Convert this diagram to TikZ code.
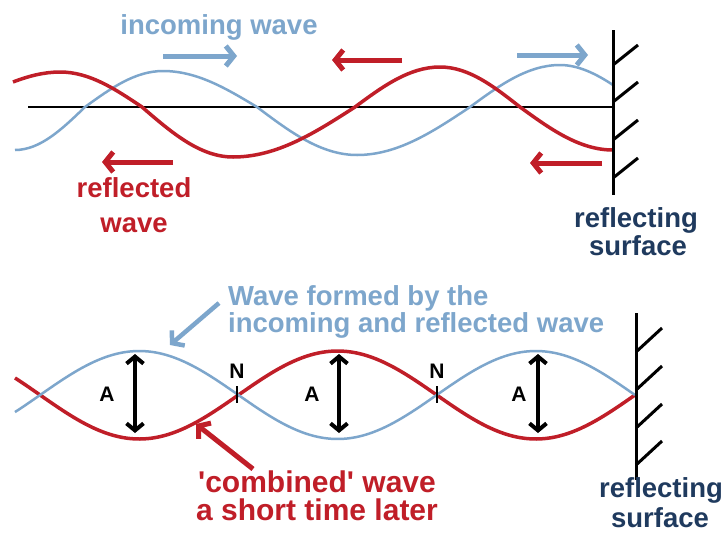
\documentclass[tikz,border=0pt]{standalone}
\usepackage{fontspec}
\setmainfont{Liberation Sans}
\usetikzlibrary{arrows.meta}
\definecolor{wblue}{RGB}{125,166,204}
\definecolor{wred}{RGB}{192,30,40}
\definecolor{navy}{RGB}{31,58,94}
\tikzset{
  lbl/.style={font=\fontsize{27.5}{30}\selectfont\bfseries, inner sep=0pt, anchor=base},
  lblbig/.style={font=\fontsize{30}{32}\selectfont\bfseries, inner sep=0pt, anchor=base},
  smalllbl/.style={font=\fontsize{21}{23}\selectfont\bfseries, inner sep=0pt, anchor=base},
  bluewave/.style={wblue, line width=2.5pt},
  redwave/.style={wred, line width=3.5pt},
  arr/.style={line width=5pt, -{Straight Barb[length=8pt,width=20pt]}},
  dblarr/.style={line width=4pt, {Straight Barb[length=7pt,width=17pt]}-{Straight Barb[length=7pt,width=17pt]}},
  wall/.style={black, line width=3pt},
  hatchline/.style={black, line width=3pt},
}
\begin{document}
\begin{tikzpicture}[x=1pt, y=-1pt]
\fill[white] (0,0) rectangle (725,544);
\useasboundingbox (0,0) rectangle (725,544);

% ---------- top panel ----------
\draw[black, line width=1.5pt] (28,107) -- (613,107);
\draw[bluewave] (15,150)
  .. controls (40.3,150) and (62.2,129) .. (85,107)
  .. controls (110.4,88.6) and (134.8,71) .. (163,71)
  .. controls (197,71) and (226.4,88.6) .. (257,107)
  .. controls (289.6,131.6) and (320.9,155) .. (357,155)
  .. controls (397.8,155) and (433.2,131.6) .. (470,107)
  .. controls (499.3,85.5) and (527.5,65) .. (560,65)
  .. controls (577.7,65) and (595.3,73.3) .. (613,85);
\draw[redwave] (13,82)
  .. controls (28.7,76) and (44.3,72) .. (60,72)
  .. controls (89.6,72) and (115.3,89.1) .. (142,107)
  .. controls (171.6,132.6) and (200.1,157) .. (233,157)
  .. controls (277.1,157) and (315.3,132.6) .. (355,107)
  .. controls (382.7,86.5) and (409.3,67) .. (440,67)
  .. controls (468.9,67) and (493.9,86.5) .. (520,107)
  .. controls (550.3,129) and (579.4,150) .. (613,150);

\draw[wall] (613,30) -- (613,195);
\foreach \yy in {65,102,140,178} \draw[hatchline] (613,\yy) -- ++(25,-20);

\draw[arr, wblue] (163,56) -- (237,56);
\draw[arr, wred] (402,60) -- (332,60);
\draw[arr, wblue] (517,55) -- (588,55);
\draw[arr, wred] (602,163) -- (530,163);
\draw[arr, wred] (173,162) -- (102,162);

\node[lbl, text=wblue] (incoming) at (219,34) {incoming wave};
\node[lbl, text=wred] (refl1) at (134,197) {reflected};
\node[lbl, text=wred] (refl2) at (134,232) {wave};
\node[lbl, text=navy] (surf1) at (636,227) {reflecting};
\node[lbl, text=navy] (surf2) at (638,255) {surface};

% ---------- bottom panel ----------
\draw[redwave] plot[domain=15:635, samples=140, smooth] (\x,{395+44*sin((635-\x)/198.3*180)});
\draw[bluewave] plot[domain=15:635, samples=140, smooth] (\x,{395-44*sin((635-\x)/198.3*180)});

\draw[wall] (636,313) -- (636,480);
\foreach \yy in {352,390,428,465} \draw[hatchline] (636,\yy) -- ++(26,-24);

\foreach \xx/\nm in {237/n1, 437/n2} {
  \draw[black, line width=2.5pt] (\xx,386) -- (\xx,403);
  \node[smalllbl] (\nm) at (\xx,378) {N};
}
\draw[dblarr] (135,354) -- (135,433);
\draw[dblarr] (339,354) -- (339,433);
\draw[dblarr] (538,354) -- (538,433);
\node[smalllbl] (a1) at (107,401) {A};
\node[smalllbl] (a2) at (312,401) {A};
\node[smalllbl] (a3) at (519,401) {A};

\node[lbl, text=wblue, anchor=base west] (formed1) at (228,305) {Wave formed by the};
\node[lbl, text=wblue, anchor=base west] (formed2) at (228,332) {incoming and reflected wave};
\coordinate (bluetail) at (219,303);
\coordinate (bluetip) at (170,345);
\draw[arr, wblue, line width=4.5pt] (bluetail) -- (bluetip);

\node[lblbig, text=wred] (comb1) at (317,492) {\textquotesingle combined\textquotesingle\ wave};
\node[lblbig, text=wred] (comb2) at (317,520) {a short time later};
\coordinate (redtail) at (253,469);
\coordinate (redtip) at (196,424);
\draw[arr, wred] (redtail) -- (redtip);

\node[lbl, text=navy] (surf3) at (661,497) {reflecting};
\node[lbl, text=navy] (surf4) at (660,527) {surface};
\end{tikzpicture}
\end{document}
